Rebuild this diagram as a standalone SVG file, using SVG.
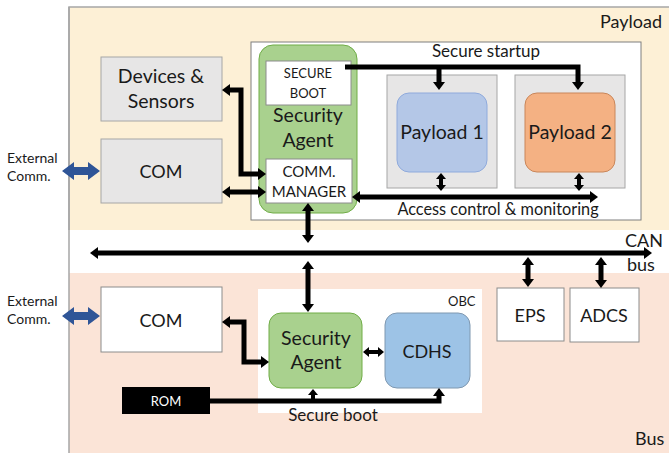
<svg xmlns="http://www.w3.org/2000/svg" width="669" height="453" viewBox="0 0 669 453">
<defs>
<style>
text{font-family:Lato,"Liberation Sans",sans-serif;fill:#1a1a1a}
.c{text-anchor:middle}
.t19{font-size:19.5px}
.t18{font-size:18px}
.t17{font-size:17px}
.t14{font-size:14px}
.t13{font-size:13px}
.conn{fill:none;stroke:#000;stroke-width:5}
.thin{fill:none;stroke:#000;stroke-width:4}
.grey{fill:#e7e6e6;stroke:#a6a6a6;stroke-width:1}
.wbox{fill:#fff;stroke:#8c8c8c;stroke-width:1}
</style>
<marker id="ah" viewBox="0 0 8 12" refX="1" refY="6" markerWidth="8" markerHeight="12" markerUnits="userSpaceOnUse" orient="auto-start-reverse">
<path d="M0,0 L8,6 L0,12 z" fill="#000"/>
</marker>
<marker id="as" viewBox="0 0 6 10" refX="1" refY="5" markerWidth="6" markerHeight="10" markerUnits="userSpaceOnUse" orient="auto-start-reverse">
<path d="M0,0 L6,5 L0,10 z" fill="#000"/>
</marker>
</defs>

<!-- backgrounds -->
<g id="payload-region">
<rect x="69" y="7" width="600" height="223" fill="#fdf0d6"/>
<path d="M69,230 V7 H669" fill="none" stroke="#a6a6a6" stroke-width="1.5"/>
<text class="t18" x="600" y="28">Payload</text>
</g>
<g id="can-strip">
<rect x="69" y="230" width="600" height="43" fill="#fff"/>
</g>
<g id="bus-region">
<rect x="69" y="273" width="600" height="180" fill="#fbe4d7"/>
<text class="t18" x="635" y="445">Bus</text>
</g>
<line x1="69" y1="7" x2="69" y2="453" stroke="#a6a6a6" stroke-width="1.5"/>

<!-- payload nodes -->
<g id="devices-sensors">
<rect class="grey" x="101" y="57" width="121" height="64"/>
<text class="c t19" x="161" y="83">Devices &amp;</text>
<text class="c t19" x="161" y="108">Sensors</text>
</g>
<g id="com-payload">
<rect class="grey" x="101" y="139" width="121" height="64"/>
<text class="c t18" x="161" y="178">COM</text>
</g>
<g id="ext-comm-payload">
<text class="t14" x="7" y="163">External</text>
<text class="t14" x="7" y="181">Comm.</text>
<path d="M62,171 L74,162 V167 H88 V162 L100,171 L88,180 V175 H74 V180 Z" fill="#2f5597"/>
</g>
<g id="secure-container">
<rect x="251" y="42" width="390" height="178" fill="#fff" stroke="#7f7f7f" stroke-width="1"/>
</g>
<g id="security-agent-payload">
<rect x="259" y="45" width="98" height="168" rx="14" fill="#a9d18e" stroke="#70ad47" stroke-width="1"/>
<text class="c t19" x="308" y="122">Security</text>
<text class="c t19" x="308" y="147">Agent</text>
</g>
<g id="secure-boot">
<rect class="wbox" x="266" y="61" width="85" height="44"/>
<text class="c t13" x="308" y="78">SECURE</text>
<text class="c t13" x="308" y="98">BOOT</text>
</g>
<g id="comm-manager">
<rect class="wbox" x="266" y="159" width="86" height="44"/>
<text class="c" x="309" y="177" style="font-size:15px">COMM.</text>
<text class="c" x="309" y="197" style="font-size:15px">MANAGER</text>
</g>
<g id="payload1">
<rect class="grey" x="387" y="75" width="110" height="113"/>
<rect x="397" y="93" width="90" height="79" rx="12" fill="#b4c7e7" stroke="#8faadc" stroke-width="1"/>
<text class="c t19" x="442" y="139">Payload 1</text>
</g>
<g id="payload2">
<rect class="grey" x="515" y="75" width="110" height="113"/>
<rect x="525" y="93" width="90" height="79" rx="12" fill="#f4b183" stroke="#c9865a" stroke-width="1"/>
<text class="c t19" x="570" y="139">Payload 2</text>
</g>
<text class="c t17" x="486" y="57">Secure startup</text>
<text class="c" x="498" y="215" style="font-size:16.3px">Access control &amp; monitoring</text>
<text class="t18" x="625" y="247">CAN</text>
<text class="t18" x="627" y="271">bus</text>

<!-- bus nodes -->
<g id="ext-comm-bus">
<text class="t14" x="7" y="306">External</text>
<text class="t14" x="7" y="324">Comm.</text>
<path d="M62,316 L74,307 V312 H88 V307 L100,316 L88,325 V320 H74 V325 Z" fill="#2f5597"/>
</g>
<g id="com-bus">
<rect class="wbox" x="101" y="287" width="121" height="65"/>
<text class="c t18" x="161" y="327">COM</text>
</g>
<g id="obc">
<rect x="258" y="289" width="224" height="124" fill="#fff"/>
<text class="t13" x="448" y="306">OBC</text>
</g>
<g id="security-agent-bus">
<rect x="269" y="313" width="93" height="75" rx="12" fill="#a9d18e" stroke="#70ad47" stroke-width="1"/>
<text class="c t19" x="316" y="345">Security</text>
<text class="c t19" x="316" y="369">Agent</text>
</g>
<g id="cdhs">
<rect x="385" y="313" width="85" height="75" rx="12" fill="#9dc3e6" stroke="#7f98b0" stroke-width="1"/>
<text class="c t18" x="427" y="358">CDHS</text>
</g>
<g id="rom">
<rect x="122" y="387" width="88" height="27" fill="#000"/>
<text class="c t13" x="166" y="406" style="fill:#fff">ROM</text>
</g>
<text class="c t17" x="333" y="421">Secure boot</text>
<g id="eps">
<rect class="wbox" x="497" y="288" width="67" height="53"/>
<text class="c t18" x="530" y="322">EPS</text>
</g>
<g id="adcs">
<rect class="wbox" x="570" y="288" width="69" height="54"/>
<text class="c t18" x="604" y="322">ADCS</text>
</g>

<!-- connectors -->
<g id="connectors">
<path class="conn" d="M229,90 H241 V174 H259" marker-start="url(#ah)" marker-end="url(#ah)"/>
<path class="conn" d="M229,192 H259" marker-start="url(#ah)" marker-end="url(#ah)"/>
<path class="conn" d="M308,210 V236" marker-start="url(#ah)" marker-end="url(#ah)"/>
<path class="conn" d="M97,253 H645" marker-start="url(#ah)" marker-end="url(#ah)"/>
<path class="conn" d="M308,268 V305" marker-start="url(#ah)" marker-end="url(#ah)"/>
<path class="conn" d="M345,67 H578 V83" marker-end="url(#ah)"/>
<path class="conn" d="M439,67 V83" marker-end="url(#ah)"/>
<path class="conn" d="M359,197 H591" marker-start="url(#ah)" marker-end="url(#ah)"/>
<path class="thin" d="M441,178 V186" marker-start="url(#as)" marker-end="url(#as)"/>
<path class="thin" d="M579,178 V186" marker-start="url(#as)" marker-end="url(#as)"/>
<path class="conn" d="M229,322 H244 V362 H262" marker-start="url(#ah)" marker-end="url(#ah)"/>
<path class="thin" d="M368,352 H379" marker-start="url(#as)" marker-end="url(#as)"/>
<path class="conn" d="M210,401 H439 V395" marker-end="url(#ah)"/>
<path class="thin" d="M313,401 V394" marker-end="url(#as)"/>
<path class="conn" d="M528,264 V280" marker-start="url(#ah)" marker-end="url(#ah)"/>
<path class="conn" d="M601,264 V281" marker-start="url(#ah)" marker-end="url(#ah)"/>
</g>
</svg>
